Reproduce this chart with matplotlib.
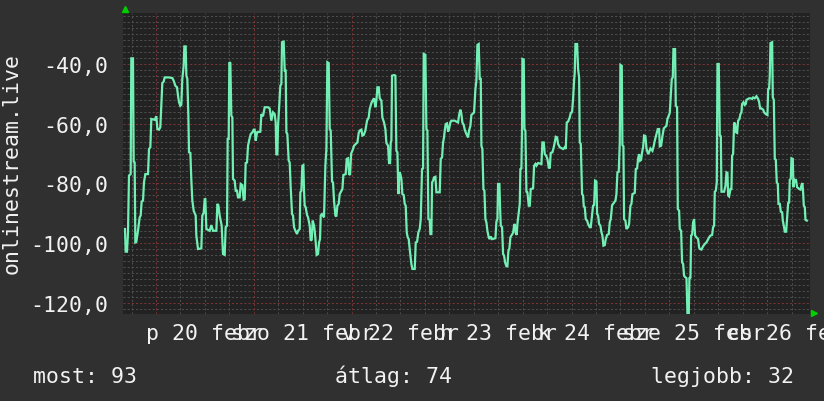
import matplotlib
matplotlib.use('Agg')
import matplotlib.pyplot as plt
from matplotlib.transforms import blended_transform_factory

# signal level (dBm), x = hours since 2015-02-20 00:00
part_19_20 = [(-7.61, -95.3), (-7.45, -102.9), (-7.12, -102.9), (-6.87, -96.4), (-6.63, -77.4), (-6.22, -76.9),
              (-6.06, -38.1), (-5.65, -38.1), (-5.48, -72.7), (-5.24, -73.0), (-5.07, -99.8), (-4.83, -99.6),
              (-4.42, -95.9), (-4.01, -91.4), (-3.76, -90.8), (-3.52, -86.1), (-3.19, -85.8), (-2.95, -79.7),
              (-2.62, -76.9), (-1.96, -76.9), (-1.72, -68.5), (-1.39, -67.9), (-1.15, -58.4), (-0.33, -58.7),
              (0.08, -57.5), (0.33, -61.8), (0.74, -62.0), (1.06, -61.2), (1.31, -54.0), (1.55, -46.4),
              (1.88, -45.9), (2.13, -44.5), (3.11, -44.5), (4.01, -44.7), (4.34, -45.6), (4.75, -47.3),
              (5.16, -47.8), (5.40, -50.6), (5.65, -52.8), (5.97, -54.0), (6.22, -53.6), (6.46, -45.0),
              (6.79, -40.6), (6.96, -34.1), (7.28, -34.1), (7.45, -43.9), (7.69, -45.0), (7.94, -57.3),
              (8.10, -69.6), (8.43, -69.8), (8.67, -78.8), (8.92, -85.8), (9.25, -89.2), (9.74, -90.8),
              (9.90, -97.5), (10.31, -102.0), (11.13, -101.8), (11.37, -90.8), (11.70, -89.9), (11.95, -85.3),
              (12.11, -85.3), (12.36, -95.3), (13.18, -95.9), (13.58, -94.0), (13.99, -95.9), (14.81, -95.9),
              (15.06, -86.9), (15.30, -87.3), (15.63, -90.8), (16.12, -94.2), (16.45, -103.7), (16.86, -104.0),
              (17.10, -94.7), (17.43, -94.2), (17.59, -65.1), (17.84, -65.1), (18.00, -39.4), (18.25, -39.7),
              (18.49, -57.3), (18.74, -57.9), (18.90, -78.5), (19.31, -79.1), (19.56, -82.5), (19.89, -82.5),
              (20.13, -84.7), (20.54, -84.7)]

part_21 = [(20.79, -80.2), (21.19, -80.6), (21.52, -85.5), (21.77, -85.3), (22.01, -73.2), (22.34, -73.0),
           (22.59, -67.4), (22.84, -65.7), (23.24, -63.5), (23.65, -62.9), (23.98, -62.0), (24.22, -62.0),
           (24.47, -65.7), (24.80, -62.9), (25.61, -62.7), (25.86, -56.8), (26.27, -57.5), (26.68, -54.5),
           (27.50, -54.5), (27.91, -54.9), (28.31, -59.0), (28.72, -56.2), (29.13, -56.8), (29.38, -59.6),
           (29.54, -70.5), (29.79, -70.2), (29.95, -60.7), (30.20, -55.1), (30.52, -47.3), (30.77, -46.7),
           (30.93, -32.7), (31.34, -32.5), (31.59, -42.2), (31.83, -42.2), (32.00, -62.9), (32.24, -63.5),
           (32.57, -72.4), (32.81, -73.0), (33.06, -81.3), (33.39, -90.3), (33.63, -90.8), (33.88, -94.7),
           (34.21, -95.9), (34.62, -97.0), (34.86, -95.9), (35.27, -95.3), (35.43, -83.0), (35.68, -82.5),
           (35.92, -74.1), (36.17, -73.9), (36.33, -82.5), (36.50, -87.5), (36.74, -88.0), (37.07, -90.6),
           (37.32, -91.4), (37.73, -94.2), (37.97, -99.2), (38.22, -98.9), (38.46, -92.5), (38.79, -94.2),
           (38.95, -95.9), (39.20, -99.8), (39.44, -104.0), (39.77, -103.7), (40.02, -99.8), (40.26, -98.7),
           (40.43, -90.8), (40.75, -90.3), (41.24, -91.4), (41.57, -74.1), (41.82, -68.5), (42.06, -39.4),
           (42.39, -39.7), (42.64, -61.8), (42.88, -62.3), (43.21, -79.4), (43.45, -79.7), (43.70, -85.8),
           (44.03, -90.8), (44.27, -91.1), (44.52, -87.5), (44.84, -86.9), (45.09, -83.6), (45.50, -82.5),
           (45.75, -81.9), (45.99, -77.2), (46.56, -76.9), (46.81, -71.8), (47.14, -71.6), (47.38, -76.9),
           (47.63, -77.2)]

part_22 = [(47.90, -70.0), (48.20, -69.1), (48.61, -67.4), (49.02, -66.8), (49.43, -66.3), (49.75, -63.1),
           (50.00, -62.3), (50.41, -62.0), (50.65, -64.0), (50.98, -63.8), (51.39, -62.3), (51.80, -59.0),
           (52.21, -57.9), (52.45, -55.1), (52.86, -53.1), (53.27, -52.0), (53.52, -51.5), (53.85, -54.5),
           (54.09, -52.3), (54.34, -47.8), (54.67, -47.8), (54.91, -51.5), (55.32, -52.3), (55.56, -57.9),
           (55.97, -59.6), (56.30, -61.8), (56.55, -66.5), (56.96, -67.4), (57.20, -73.2), (57.45, -73.2),
           (57.61, -66.3), (57.77, -65.7), (57.94, -43.9), (58.43, -43.7), (58.76, -43.9), (59.00, -69.1),
           (59.25, -69.6), (59.49, -83.6), (59.74, -76.3), (59.98, -76.9), (60.23, -78.5), (60.47, -83.6),
           (60.80, -83.9), (61.05, -86.9), (61.29, -87.5), (61.54, -96.4), (61.78, -98.1), (62.03, -98.7),
           (62.27, -102.0), (62.68, -107.0), (62.93, -108.7), (63.50, -108.7), (63.75, -99.8), (64.08, -99.6),
           (64.40, -96.4), (64.73, -95.3), (64.98, -92.0), (65.30, -75.2), (65.55, -75.0), (65.71, -36.6),
           (66.12, -36.9), (66.37, -61.8), (66.61, -62.3), (66.86, -92.0), (67.18, -92.2), (67.35, -97.0),
           (67.59, -97.0), (67.76, -79.7), (68.00, -79.1), (68.25, -78.0), (68.58, -77.8), (68.82, -83.0),
           (69.64, -83.0), (69.89, -71.8), (70.21, -71.3), (70.46, -66.3), (70.70, -64.6), (70.87, -62.3),
           (71.11, -60.1), (71.44, -59.9), (71.69, -62.7), (71.93, -61.8), (72.26, -59.6), (72.50, -59.0),
           (73.32, -59.0), (74.14, -59.6), (74.39, -57.1), (74.71, -55.3), (74.96, -56.8), (75.20, -59.6),
           (75.53, -60.4), (75.78, -62.0)]

part_23_24 = [(76.19, -63.5), (76.60, -64.6), (76.84, -62.3), (77.17, -60.7), (77.41, -57.1), (78.07, -56.2),
              (78.40, -48.4), (78.64, -45.6), (78.89, -33.6), (79.21, -33.3), (79.46, -45.0), (79.71, -45.0),
              (79.87, -67.4), (80.11, -68.5), (80.36, -81.9), (80.61, -82.5), (80.85, -92.0), (81.10, -93.1),
              (81.34, -95.9), (81.67, -98.1), (81.91, -98.7), (82.16, -97.8), (82.49, -98.7), (83.31, -98.4),
              (83.55, -92.8), (83.80, -92.0), (83.96, -80.2), (84.29, -80.2), (84.45, -88.0), (84.62, -94.2),
              (84.94, -94.7), (85.19, -103.7), (85.43, -104.2), (85.68, -106.5), (86.01, -107.8), (86.25, -107.8),
              (86.50, -102.6), (86.74, -101.8), (86.99, -98.1), (87.23, -97.5), (87.64, -96.6), (87.89, -94.2),
              (88.05, -93.6), (88.30, -96.6), (88.54, -97.3), (88.71, -93.6), (89.03, -89.7), (89.28, -86.9),
              (89.44, -75.2), (89.69, -75.0), (89.85, -60.7), (89.93, -38.3), (90.26, -38.5), (90.43, -61.8),
              (90.67, -62.3), (90.92, -82.8), (91.16, -83.0), (91.49, -87.5), (91.74, -87.5), (91.98, -81.9),
              (92.55, -81.7), (92.80, -74.1), (93.13, -73.5), (93.37, -74.1), (93.78, -73.2), (94.60, -73.5),
              (94.84, -66.3), (95.17, -66.3), (95.42, -70.2), (95.74, -70.7), (96.07, -71.8), (96.40, -74.6),
              (96.64, -75.0), (96.89, -69.8), (97.30, -69.6), (97.63, -67.9), (97.87, -66.3), (98.12, -64.4),
              (98.45, -64.6), (98.69, -66.8), (99.10, -67.9), (99.92, -68.5), (100.33, -67.9), (100.57, -68.5),
              (100.82, -59.6), (101.15, -59.3), (101.55, -57.9), (101.80, -56.4), (102.13, -56.0), (102.37, -51.7),
              (102.62, -45.6), (102.78, -42.8), (102.95, -33.3), (103.36, -33.3), (103.60, -41.7), (103.85, -44.5),
              (104.01, -66.3), (104.26, -66.8)]

part_25 = [(104.58, -83.6), (104.83, -84.1), (104.99, -87.7), (105.24, -88.0), (105.48, -92.0), (105.81, -92.5),
           (106.06, -93.6), (106.46, -94.7), (106.71, -94.7), (106.96, -91.4), (107.28, -87.5), (107.53, -87.3),
           (107.77, -79.1), (108.10, -79.4), (108.27, -90.3), (108.51, -90.8), (108.76, -93.6), (109.08, -94.2),
           (109.33, -96.4), (109.57, -97.5), (109.82, -100.9), (110.15, -100.7), (110.39, -98.7), (110.72, -97.3),
           (111.13, -97.0), (111.37, -93.1), (111.62, -92.0), (111.95, -87.3), (112.19, -86.9), (112.77, -85.8),
           (113.01, -83.6), (113.26, -76.3), (113.58, -76.1), (113.83, -66.3), (113.99, -40.3), (114.32, -40.6),
           (114.48, -67.2), (114.73, -67.6), (114.89, -92.0), (115.22, -92.5), (115.47, -95.3), (115.88, -94.7),
           (116.12, -93.6), (116.45, -87.5), (116.69, -86.9), (116.94, -83.6), (117.51, -83.2), (117.76, -75.2),
           (118.09, -75.0), (118.33, -71.6), (118.58, -70.2), (118.82, -72.4), (119.07, -72.1), (119.31, -69.6),
           (119.56, -67.9), (119.80, -64.0), (120.13, -64.2), (120.38, -68.3), (120.79, -70.2), (121.03, -69.6),
           (121.36, -68.3), (121.85, -69.1), (122.18, -67.4), (122.42, -65.7), (122.83, -63.5), (123.16, -61.8),
           (123.49, -61.8), (123.65, -67.6), (123.98, -67.4), (124.30, -64.2), (124.63, -61.6), (125.29, -60.7),
           (125.53, -58.4), (125.86, -57.3), (126.10, -56.4), (126.35, -50.6), (126.60, -45.0), (126.84, -44.5),
           (127.00, -35.0), (127.41, -35.0), (127.58, -54.0), (127.90, -54.5), (128.07, -88.6), (128.40, -89.2),
           (128.56, -95.3), (128.89, -95.9), (129.13, -106.5), (129.38, -107.0), (129.62, -111.0), (129.95, -111.5),
           (130.20, -111.8), (130.44, -123.6), (130.77, -123.6), (130.93, -111.5), (131.18, -111.8), (131.34, -97.5),
           (131.59, -97.2), (131.83, -93.1), (132.08, -92.0), (132.32, -97.5), (132.65, -98.1), (133.06, -98.7),
           (133.31, -101.5)]

part_26 = [(133.47, -102.0), (133.88, -102.2), (134.29, -101.1), (134.70, -100.3), (135.11, -99.8), (135.52, -98.7),
           (135.76, -98.1), (136.09, -97.5), (136.50, -97.3), (136.74, -94.7), (136.99, -94.2), (137.15, -82.8),
           (137.40, -82.5), (137.64, -79.7), (137.81, -40.0), (138.13, -40.0), (138.38, -64.0), (138.63, -64.2),
           (138.79, -82.8), (139.44, -82.8), (139.77, -80.8), (140.02, -76.3), (140.26, -76.5), (140.43, -84.1),
           (140.67, -84.4), (141.00, -81.9), (141.24, -81.9), (141.41, -70.7), (141.65, -70.2), (141.90, -59.6),
           (142.14, -60.1), (142.39, -62.9), (142.64, -63.1), (142.88, -59.0), (143.21, -58.4), (143.45, -56.8),
           (143.70, -56.2), (143.86, -53.4), (144.19, -52.8), (144.52, -53.7), (144.76, -53.4), (144.93, -52.0),
           (145.58, -51.5), (145.99, -51.5), (146.32, -51.7), (146.56, -51.2), (146.97, -51.5), (147.38, -50.8),
           (147.79, -51.7), (148.04, -52.8), (148.28, -54.9), (148.61, -54.9), (149.02, -55.3), (149.26, -56.2),
           (149.67, -56.8), (150.08, -57.1), (150.25, -48.4), (150.49, -48.2), (150.65, -43.9), (150.82, -33.0),
           (151.23, -32.7), (151.39, -51.2), (151.64, -52.0), (151.88, -71.8), (152.13, -72.1), (152.37, -79.7),
           (152.62, -80.2), (152.78, -86.9), (153.11, -86.9), (153.36, -89.5), (153.68, -89.7), (153.85, -92.5),
           (154.09, -94.2), (154.34, -96.2), (154.67, -96.2), (154.91, -91.4), (155.16, -86.6), (155.40, -86.4),
           (155.56, -78.8), (155.81, -78.5), (155.97, -71.6), (156.30, -71.8), (156.46, -81.3), (156.63, -78.5),
           (156.87, -79.4), (157.12, -79.1), (157.36, -81.3), (157.86, -81.9), (158.18, -82.1), (158.43, -80.6),
           (158.67, -79.9), (158.84, -83.2), (159.00, -87.5), (159.25, -88.0), (159.41, -92.2), (159.74, -92.5)]

day_labels = ['p 20 febr', 'szo 21 febr', 'v 22 febr', 'h 23 febr', 'k 24 febr', 'sze 25 febr', 'cs 26 febr']
day_noon = [12, 36, 60, 84, 108, 132, 156]
y_ticks = [-40, -60, -80, -100, -120]
summary = ['most: 93', 'átlag: 74', 'legjobb: 32']
summary_x = [33, 335, 651]
y_title = 'onlinestream.live'

points = part_19_20 + part_21 + part_22 + part_23_24 + part_25 + part_26
hours = [p[0] for p in points]
level = [p[1] for p in points]

BG = '#303030'
PLOT_BG = '#222222'
TXT = '#f2f2f2'
MINOR = '#4e4e4e'
MAJOR = '#7a3434'
LINE = '#72efb4'
ARROW = '#00d000'

plt.rcParams['font.family'] = ['DejaVu Sans Mono']
FS = 15.5

W, H = 824, 402
fig = plt.figure(figsize=(W / 100, H / 100), dpi=100, facecolor=BG)
left, right, top, bottom = 123, 809.5, 14, 315
ax = fig.add_axes([left / W, 1 - bottom / H, (right - left) / W, (bottom - top) / H])
ax.set_facecolor(PLOT_BG)
ax.set_xlim(-8.1, 160.4)
ax.set_ylim(-123.8, -22.9)
for s in ax.spines.values():
    s.set_visible(False)

# grid: minor every 2 units / 6 hours, major every 20 units / day
for y in range(-122, -22, 2):
    if y % 20:
        ax.axhline(y, color=MINOR, lw=0.75, ls=(0, (2, 2)), zorder=1)
for h in range(-6, 161, 6):
    if h % 24:
        ax.axvline(h, color=MINOR, lw=0.75, ls=(0, (2, 2)), zorder=1)
for y in y_ticks:
    ax.axhline(y, color=MAJOR, lw=0.75, ls=(0, (2, 2)), zorder=1.5)
for h in range(0, 161, 24):
    ax.axvline(h, color=MAJOR, lw=0.75, ls=(0, (2, 2)), zorder=1.5)

ax.plot(hours, level, color=LINE, lw=1.6, zorder=3, solid_joinstyle='miter')

ax.set_yticks(y_ticks, labels=[f'{v:.1f}'.replace('.', ',') for v in y_ticks])
ax.set_xticks([])
ax.tick_params(axis='y', length=0, pad=10.8, labelsize=FS, labelcolor=TXT)

trans = blended_transform_factory(ax.transData, ax.transAxes)
for lab, xn in zip(day_labels, day_noon):
    ax.text(xn, -(340 - bottom) / (bottom - top), lab, transform=trans, ha='center', va='baseline',
            fontsize=FS, color=TXT, clip_on=False)

# axis arrows
ax.plot([(125 - left) / (right - left)], [1 + (top - 10) / (bottom - top)], marker='^', ms=5,
        color=ARROW, transform=ax.transAxes, clip_on=False)
ax.plot([1 + (814 - right) / (right - left)], [(bottom - 314) / (bottom - top)], marker='>', ms=5,
        color=ARROW, transform=ax.transAxes, clip_on=False)

fig.text(12 / W, 1 - 164 / H, y_title, rotation=90, ha='center', va='center', fontsize=FS, color=TXT)
for txt, x in zip(summary, summary_x):
    fig.text(x / W, 1 - 383 / H, txt, ha='left', va='baseline', fontsize=FS, color=TXT)

fig.savefig('out.png', dpi=100, facecolor=BG)
